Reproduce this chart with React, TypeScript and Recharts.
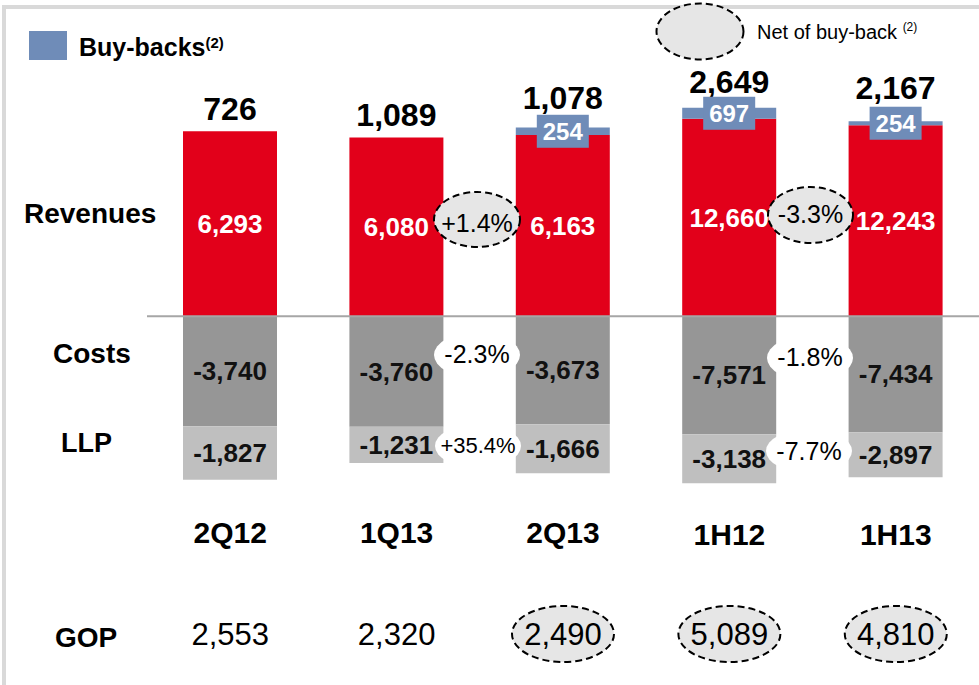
import { BarChart, Bar, XAxis, YAxis, ReferenceLine, LabelList } from 'recharts'

const periods = ['2Q12', '1Q13', '2Q13', '1H12', '1H13']
const isHalf = [false, false, false, true, true]
const revenues = [6293, 6080, 6163, 12660, 12243]
const buyBacks = [0, 0, 254, 697, 254]
const costs = [-3740, -3760, -3673, -7571, -7434]
const llp = [-1827, -1231, -1666, -3138, -2897]
const totals = [726, 1089, 1078, 2649, 2167]
const gop = [2553, 2320, 2490, 5089, 4810]
const gopNetOfBuyBack = [false, false, true, true, true]

const RED = '#e2001a'
const BLUE = '#6f8cb8'
const COST_GREY = '#969696'
const LLP_GREY = '#bfbfbf'
const BUBBLE = '#e6e6e6'
const FONT = '"Liberation Sans", Arial, sans-serif'

// quarters and halves are drawn on their own scales, sharing the zero line
const data = periods.map((period, i) => ({
  period,
  revQ: isHalf[i] ? null : revenues[i],
  buyQ: isHalf[i] ? null : buyBacks[i],
  costQ: isHalf[i] ? null : costs[i],
  llpQ: isHalf[i] ? null : llp[i],
  revH: isHalf[i] ? revenues[i] : null,
  buyH: isHalf[i] ? buyBacks[i] : null,
  costH: isHalf[i] ? costs[i] : null,
  llpH: isHalf[i] ? llp[i] : null,
}))

const fmt = (v: any) => (v == null ? '' : Number(v).toLocaleString('en-US'))

const box = (props: any) => {
  const vb = props.viewBox && props.viewBox.width != null ? props.viewBox : props
  return vb
}

const TotalLabel = (props: any) => {
  const { value } = props
  if (value == null) return null
  const i = revenues.indexOf(value)
  const vb = box(props)
  const cx = vb.x + vb.width / 2
  const top = Math.min(vb.y, vb.y + vb.height)
  const lift = buyBacks[i] > 0 ? 26 : 11
  return (
    <text x={cx} y={top - lift} textAnchor="middle" fontSize={32} fontWeight="bold" fill="#000">
      {fmt(totals[i])}
    </text>
  )
}

const BuyBackLabel = (props: any) => {
  const { value } = props
  if (!value) return null
  const vb = box(props)
  const cx = vb.x + vb.width / 2
  const cy = Math.min(vb.y, vb.y + vb.height) + Math.abs(vb.height) / 2
  return (
    <g>
      <rect x={cx - 26} y={cy - 16.5} width={52} height={33} fill={BLUE} />
      <text x={cx} y={cy + 8.5} textAnchor="middle" fontSize={24} fontWeight="bold" fill="#fff">
        {fmt(value)}
      </text>
    </g>
  )
}

const PeriodTick = (props: any) => {
  const { x, y, payload } = props
  const i = periods.indexOf(payload.value)
  const dy = isHalf[i] ? 2 : 0
  return (
    <g>
      <text x={x} y={y - 9 + dy} textAnchor="middle" fontSize={30} fontWeight="bold" fill="#000">
        {payload.value}
      </text>
      {gopNetOfBuyBack[i] && (
        <ellipse cx={x} cy={y + 82} rx={51} ry={28} fill={BUBBLE} stroke="#000" strokeWidth={2} strokeDasharray="7 4" />
      )}
      <text x={x} y={y + 93} textAnchor="middle" fontSize={31} fill="#000">
        {fmt(gop[i])}
      </text>
    </g>
  )
}

const valueLabel = (key: string, color: string) => (
  <LabelList dataKey={key} position="center" formatter={fmt} fill={color} fontSize={26} fontWeight="bold" />
)

function Bubble({ cx, cy, rx, ry, text, dashed, size = 25, ty }: any) {
  return (
    <g>
      <ellipse
        cx={cx}
        cy={cy}
        rx={rx}
        ry={ry}
        fill={dashed ? BUBBLE : '#fff'}
        stroke={dashed ? '#000' : 'none'}
        strokeWidth={2}
        strokeDasharray="7 4"
      />
      <text x={cx} y={ty} textAnchor="middle" fontSize={size} fill="#000">
        {text}
      </text>
    </g>
  )
}

export default function App() {
  return (
    <div style={{ position: 'absolute', left: 0, top: 0, width: 979, height: 685, background: '#fff', fontFamily: FONT }}>
      <div
        style={{
          position: 'absolute',
          left: 2,
          top: 5,
          width: 977,
          height: 677,
          borderTop: '4px solid #d9d9d9',
          borderLeft: '4px solid #d9d9d9',
          borderBottom: '2px solid #eeeeee',
        }}
      />
      <div style={{ position: 'absolute', left: 0, top: 0 }}>
        <BarChart
          width={979}
          height={685}
          data={data}
          stackOffset="sign"
          barSize={94}
          margin={{ top: 81, right: 0, left: 147, bottom: 133 }}
        >
          <XAxis
            xAxisId="q"
            dataKey="period"
            height={30}
            axisLine={false}
            tickLine={false}
            tickSize={0}
            tickMargin={0}
            interval={0}
            tick={<PeriodTick />}
          />
          <XAxis xAxisId="h" dataKey="period" hide />
          <YAxis yAxisId="q" hide domain={[-7000, 8000]} allowDataOverflow />
          <YAxis yAxisId="h" hide domain={[-13192, 15077]} allowDataOverflow />

          <Bar xAxisId="q" yAxisId="q" dataKey="revQ" stackId="q" fill={RED} isAnimationActive={false}>
            {valueLabel('revQ', '#fff')}
            <LabelList dataKey="revQ" content={TotalLabel} />
          </Bar>
          <Bar xAxisId="q" yAxisId="q" dataKey="buyQ" stackId="q" fill={BLUE} isAnimationActive={false}>
            <LabelList dataKey="buyQ" content={BuyBackLabel} />
          </Bar>
          <Bar xAxisId="q" yAxisId="q" dataKey="costQ" stackId="q" fill={COST_GREY} isAnimationActive={false}>
            {valueLabel('costQ', '#111')}
          </Bar>
          <Bar xAxisId="q" yAxisId="q" dataKey="llpQ" stackId="q" fill={LLP_GREY} isAnimationActive={false}>
            {valueLabel('llpQ', '#111')}
          </Bar>

          <Bar xAxisId="h" yAxisId="h" dataKey="revH" stackId="h" fill={RED} isAnimationActive={false}>
            {valueLabel('revH', '#fff')}
            <LabelList dataKey="revH" content={TotalLabel} />
          </Bar>
          <Bar xAxisId="h" yAxisId="h" dataKey="buyH" stackId="h" fill={BLUE} isAnimationActive={false}>
            <LabelList dataKey="buyH" content={BuyBackLabel} />
          </Bar>
          <Bar xAxisId="h" yAxisId="h" dataKey="costH" stackId="h" fill={COST_GREY} isAnimationActive={false}>
            {valueLabel('costH', '#111')}
          </Bar>
          <Bar xAxisId="h" yAxisId="h" dataKey="llpH" stackId="h" fill={LLP_GREY} isAnimationActive={false}>
            {valueLabel('llpH', '#111')}
          </Bar>

          <ReferenceLine xAxisId="q" yAxisId="q" y={0} stroke="#a6a6a6" strokeWidth={2} />
        </BarChart>
      </div>

      <svg width={979} height={685} style={{ position: 'absolute', left: 0, top: 0, pointerEvents: 'none', fontFamily: FONT }}>
        <rect x={29} y={31} width={38} height={29} fill={BLUE} />
        <text x={79} y={56} fontSize={25} fontWeight="bold" fill="#000">
          Buy-backs<tspan fontSize={15} dy={-8}>(2)</tspan>
        </text>
        <ellipse cx={700} cy={31.5} rx={43.5} ry={28} fill={BUBBLE} stroke="#000" strokeWidth={2} strokeDasharray="7 4" />
        <text x={757} y={39} fontSize={20} fill="#000">
          Net of buy-back <tspan fontSize={12} dy={-8}>(2)</tspan>
        </text>

        <text x={24} y={223} fontSize={28} fontWeight="bold" fill="#000">Revenues</text>
        <text x={53} y={363} fontSize={28} fontWeight="bold" fill="#000">Costs</text>
        <text x={61} y={452} fontSize={27} fontWeight="bold" fill="#000">LLP</text>
        <text x={55} y={647} fontSize={28} fontWeight="bold" fill="#000">GOP</text>

        <Bubble cx={477} cy={219.5} rx={43} ry={27.5} ty={232} text="+1.4%" dashed />
        <Bubble cx={810.5} cy={215} rx={42.5} ry={28} ty={223} text="-3.3%" dashed />
        <Bubble cx={477} cy={355} rx={43} ry={23} ty={363} text="-2.3%" />
        <Bubble cx={810} cy={358} rx={43} ry={23} ty={366} text="-1.8%" />
        <Bubble cx={478} cy={446} rx={43} ry={22} ty={453} text="+35.4%" size={22} />
        <Bubble cx={809} cy={451} rx={43} ry={22} ty={460} text="-7.7%" />
      </svg>
    </div>
  )
}
